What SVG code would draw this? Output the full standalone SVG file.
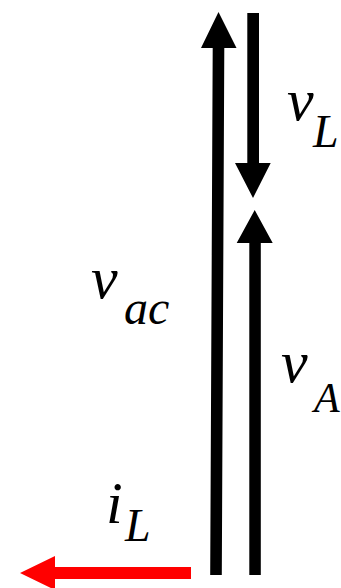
<svg xmlns="http://www.w3.org/2000/svg" width="341" height="588" viewBox="0 0 341 588">
<style>
.t{font-family:"Liberation Serif","Times New Roman",serif;font-style:italic;fill:#000}
.m{font-size:60px}
.a{fill:#000}
.r{fill:#FF0000}
</style>
<rect width="341" height="588" fill="#fff"/>
<g id="connectors">
<path class="a" d="M210.2,575 L221.8,575 L224.3,48 L236.5,48 L218.5,12 L201,48 L212.7,48 Z"/>
<path class="a" d="M247.3,13 L259,13 L259,163 L270.7,163 L253,198 L235,163 L247.3,163 Z"/>
<path class="a" d="M249.3,575 L260.8,575 L260.8,243 L272.7,243 L254.7,210 L236.7,243 L249.3,243 Z"/>
<path class="r" d="M191,567 L191,579 L55,579 L55,590 L20,573 L55,556 L55,567 Z"/>
</g>
<g id="label-vL"><text class="t m" x="287" y="120">v</text><text class="t" font-size="46" x="313" y="147">L</text></g>
<g id="label-vac"><text class="t m" x="91" y="298">v</text><text class="t" font-size="48" x="124" y="324">ac</text></g>
<g id="label-vA"><text class="t m" x="281" y="382">v</text><text class="t" font-size="42" x="314" y="412">A</text></g>
<g id="label-iL"><text class="t m" x="106" y="523">i</text><text class="t" font-size="46" x="125" y="541">L</text></g>
</svg>
